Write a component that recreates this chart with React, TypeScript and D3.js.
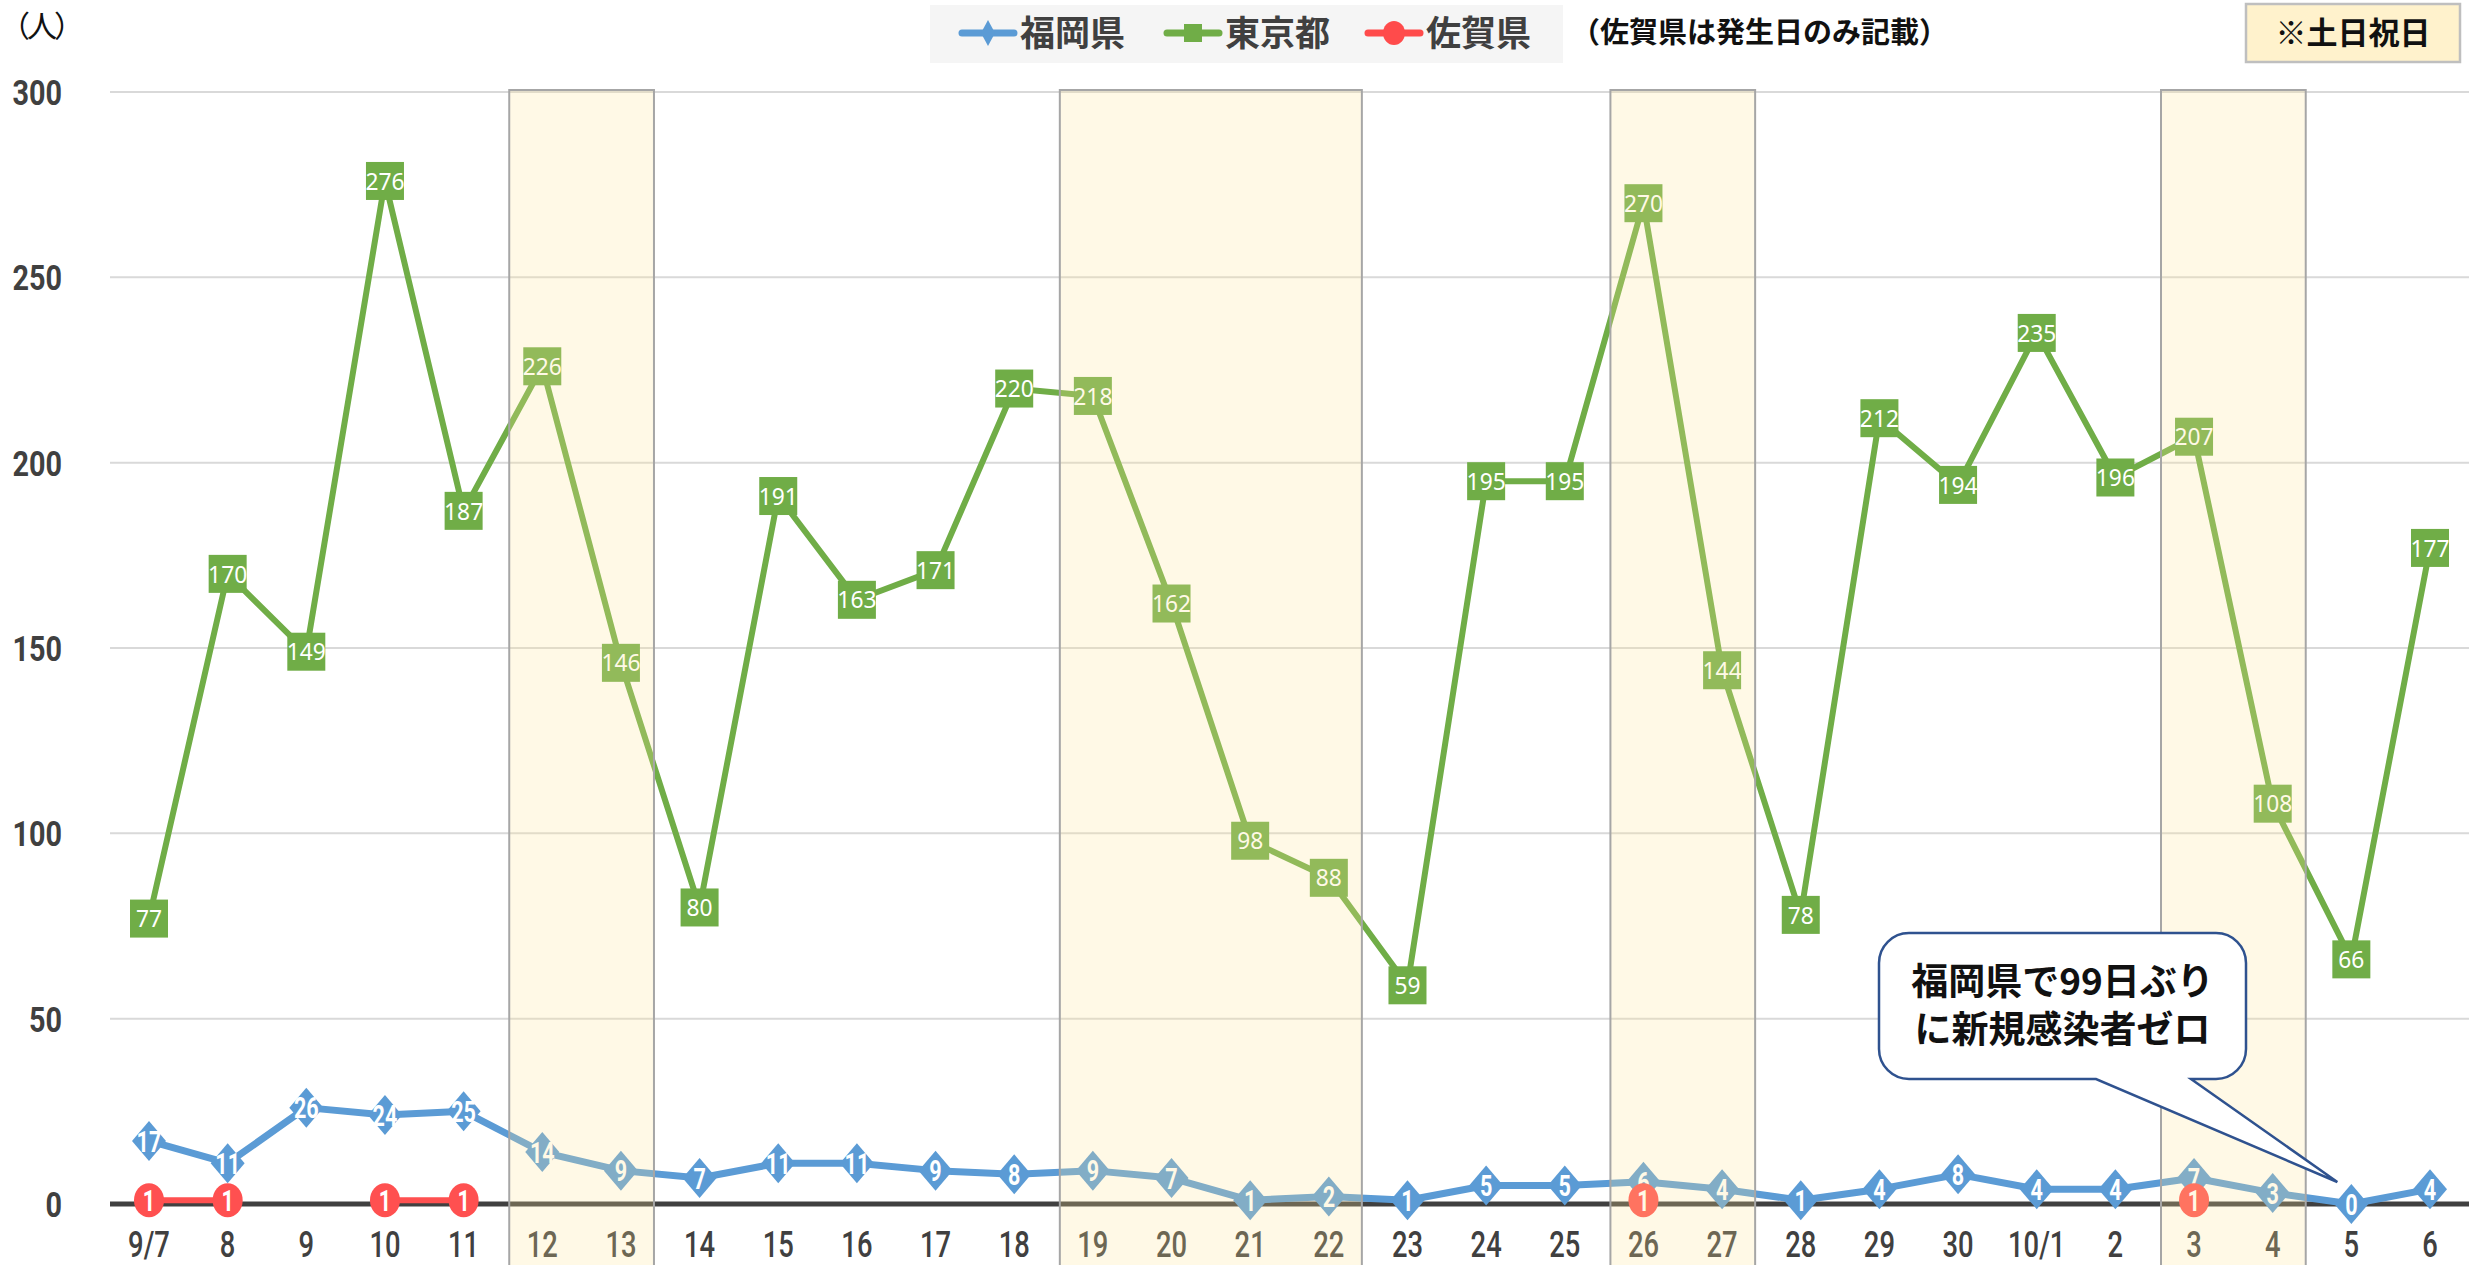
import * as d3 from "d3";
import React, { useEffect, useRef } from "react";

const dates = ["9/7", "8", "9", "10", "11", "12", "13", "14", "15", "16", "17", "18", "19", "20", "21", "22", "23", "24", "25", "26", "27", "28", "29", "30", "10/1", "2", "3", "4", "5", "6"];
const fukuoka = [17, 11, 26, 24, 25, 14, 9, 7, 11, 11, 9, 8, 9, 7, 1, 2, 1, 5, 5, 6, 4, 1, 4, 8, 4, 4, 7, 3, 0, 4];
const tokyo = [77, 170, 149, 276, 187, 226, 146, 80, 191, 163, 171, 220, 218, 162, 98, 88, 59, 195, 195, 270, 144, 78, 212, 194, 235, 196, 207, 108, 66, 177];
const saga: (number | null)[] = [1, 1, null, 1, 1, null, null, null, null, null, null, null, null, null, null, null, null, null, null, 1, null, null, null, null, null, null, 1, null, null, null];
const holidays = [["12", "13"], ["19", "22"], ["26", "27"], ["3", "4"]];
const yTicks = [0, 50, 100, 150, 200, 250, 300];

const W = 2481;
const H = 1265;
const numFont = "Roboto, 'Noto Sans', sans-serif";
const jpFont = "'Noto Sans CJK JP', sans-serif";

const BLUE = "#5B9BD5";
const GREEN = "#70AD47";
const RED = "#FF5050";

// condensed look: squeeze text horizontally around its anchor
const squeeze = (px: number, py: number, k = 0.76) => `translate(${px},${py}) scale(${k},1)`;

export default function App() {
  const ref = useRef<SVGSVGElement | null>(null);

  useEffect(() => {
    if (!ref.current) return;
    const svg = d3.select(ref.current);
    svg.selectAll("*").remove();

    const x = d3.scalePoint<string>().domain(dates).range([149, 2430]);
    const y = d3.scaleLinear().domain([0, 300]).range([1204, 92]);
    const step = x.step();

    svg.append("rect").attr("width", W).attr("height", H).attr("fill", "#fff");

    // grid
    svg.append("g").selectAll("line")
      .data(yTicks.filter(t => t > 0))
      .join("line")
      .attr("x1", 110).attr("x2", 2469)
      .attr("y1", d => y(d)).attr("y2", d => y(d))
      .attr("stroke", "#D9D9D9").attr("stroke-width", 2);

    svg.append("line")
      .attr("x1", 110).attr("x2", 2469)
      .attr("y1", y(0)).attr("y2", y(0))
      .attr("stroke", "#404040").attr("stroke-width", 5);

    // y labels
    svg.append("g").selectAll("text")
      .data(yTicks)
      .join("text")
      .attr("transform", d => squeeze(62, y(d), 0.8))
      .attr("dy", "0.36em")
      .attr("text-anchor", "end")
      .attr("font-family", numFont).attr("font-weight", "bold")
      .attr("font-size", 36).attr("fill", "#404040")
      .text(d => d);

    svg.append("text")
      .attr("x", 0).attr("y", 37)
      .attr("font-family", jpFont).attr("font-size", 30)
      .attr("letter-spacing", -3)
      .attr("fill", "#111")
      .text("（人）");

    // x labels
    svg.append("g").selectAll("text")
      .data(dates)
      .join("text")
      .attr("transform", d => squeeze(x(d)!, 1244, 0.74))
      .attr("dy", "0.36em")
      .attr("text-anchor", "middle")
      .attr("font-family", numFont).attr("font-weight", 500)
      .attr("font-size", 37).attr("fill", "#404040")
      .text(d => d);

    // Tokyo
    const lineT = d3.line<number>().x((_, i) => x(dates[i])!).y(d => y(d));
    svg.append("path").attr("d", lineT(tokyo)!)
      .attr("fill", "none").attr("stroke", GREEN).attr("stroke-width", 6)
      .attr("stroke-linejoin", "round");
    const tg = svg.append("g").selectAll("g").data(tokyo).join("g")
      .attr("transform", (d, i) => `translate(${x(dates[i])},${y(d)})`);
    tg.append("rect").attr("x", -19).attr("y", -19).attr("width", 38).attr("height", 38).attr("fill", GREEN);
    tg.append("text").attr("text-anchor", "middle").attr("dy", "0.36em")
      .attr("font-family", "'Noto Sans', sans-serif").attr("font-size", 24)
      .attr("transform", "scale(0.95,1)")
      .attr("fill", "#fff").text(d => d);

    // Fukuoka
    svg.append("path").attr("d", lineT(fukuoka)!)
      .attr("fill", "none").attr("stroke", BLUE).attr("stroke-width", 7)
      .attr("stroke-linejoin", "round");
    const fg = svg.append("g").selectAll("g").data(fukuoka).join("g")
      .attr("transform", (d, i) => `translate(${x(dates[i])},${y(d)})`);
    fg.append("path").attr("d", "M0,-20L17,0L0,20L-17,0Z").attr("fill", BLUE);
    fg.append("text").attr("text-anchor", "middle").attr("dy", "0.36em")
      .attr("transform", "scale(0.72,1)")
      .attr("font-family", numFont).attr("font-weight", "bold").attr("font-size", 30)
      .attr("fill", "#fff").text(d => d);

    // Saga
    const lineS = d3.line<number | null>()
      .defined(d => d != null)
      .x((_, i) => x(dates[i])!).y(d => y(d as number));
    svg.append("path").attr("d", lineS(saga)!)
      .attr("fill", "none").attr("stroke", RED).attr("stroke-width", 6);
    const sagaPts = saga.map((v, i) => ({ v, d: dates[i] })).filter(p => p.v != null);
    const sg = svg.append("g").selectAll("g").data(sagaPts).join("g")
      .attr("transform", p => `translate(${x(p.d)},${y(p.v as number)})`);
    sg.append("ellipse").attr("rx", 15).attr("ry", 17).attr("fill", RED);
    sg.append("text").attr("text-anchor", "middle").attr("dy", "0.36em")
      .attr("transform", "scale(0.72,1)")
      .attr("font-family", numFont).attr("font-weight", "bold").attr("font-size", 30)
      .attr("fill", "#fff").text(p => p.v as number);

    // weekend / holiday shading
    svg.append("g").selectAll("rect")
      .data(holidays)
      .join("rect")
      .attr("x", d => x(d[0])! - step * 0.42)
      .attr("width", d => x(d[1])! - x(d[0])! + step * 0.84)
      .attr("y", y(300) - 2)
      .attr("height", H - y(300) + 10)
      .attr("fill", "rgba(255, 228, 150, 0.24)")
      .attr("stroke", "#A6A6A6").attr("stroke-width", 2);

    // legend
    const lg = svg.append("g");
    lg.append("rect").attr("x", 930).attr("y", 5).attr("width", 633).attr("height", 58).attr("fill", "#F5F5F5");
    const legendItems = [
      { name: "福岡県", color: BLUE, shape: "diamond", x: 962 },
      { name: "東京都", color: GREEN, shape: "square", x: 1167 },
      { name: "佐賀県", color: "#FF4B4B", shape: "circle", x: 1368 },
    ];
    const li = lg.selectAll("g.li").data(legendItems).join("g")
      .attr("class", "li")
      .attr("transform", d => `translate(${d.x},33)`);
    li.append("line").attr("x1", 0).attr("x2", 52).attr("stroke", d => d.color).attr("stroke-width", 7)
      .attr("stroke-linecap", "round");
    li.append("path")
      .attr("d", d => d.shape === "diamond" ? "M26,-13L33,0L26,13L19,0Z"
        : d.shape === "square" ? "M17,-9H35V9H17Z" : "")
      .attr("fill", d => d.color);
    li.filter(d => d.shape === "circle").append("ellipse")
      .attr("cx", 26).attr("rx", 11).attr("ry", 12).attr("fill", d => d.color);
    li.append("text").attr("x", 58).attr("dy", "0.36em")
      .attr("font-family", jpFont).attr("font-weight", "bold").attr("font-size", 35)
      .attr("fill", "#404040").text(d => d.name);

    svg.append("text").attr("x", 1571).attr("y", 33).attr("dy", "0.36em")
      .attr("font-family", jpFont).attr("font-weight", "bold").attr("font-size", 29)
      .attr("fill", "#111").text("（佐賀県は発生日のみ記載）");

    svg.append("rect").attr("x", 2246).attr("y", 4).attr("width", 214).attr("height", 58)
      .attr("fill", "#FFF2CC").attr("stroke", "#BFBFBF").attr("stroke-width", 2.5);
    svg.append("text").attr("x", 2353).attr("y", 33).attr("dy", "0.36em")
      .attr("text-anchor", "middle")
      .attr("font-family", jpFont).attr("font-weight", "bold").attr("font-size", 31)
      .attr("fill", "#111").text("※土日祝日");

    // callout
    const cx0 = 1879, cx1 = 2246, cy0 = 933, cy1 = 1079, r = 30;
    const tipX = x("5")! - 14, tipY = y(0) - 22;
    const p = d3.path();
    p.moveTo(cx0 + r, cy0);
    p.lineTo(cx1 - r, cy0);
    p.arcTo(cx1, cy0, cx1, cy0 + r, r);
    p.lineTo(cx1, cy1 - r);
    p.arcTo(cx1, cy1, cx1 - r, cy1, r);
    p.lineTo(2191, cy1);
    p.lineTo(tipX, tipY);
    p.lineTo(2096, cy1);
    p.lineTo(cx0 + r, cy1);
    p.arcTo(cx0, cy1, cx0, cy1 - r, r);
    p.lineTo(cx0, cy0 + r);
    p.arcTo(cx0, cy0, cx0 + r, cy0, r);
    p.closePath();
    svg.append("path").attr("d", p.toString())
      .attr("fill", "#fff").attr("stroke", "#2F528F").attr("stroke-width", 2.5);
    svg.append("text").attr("x", (cx0 + cx1) / 2).attr("y", 982).attr("dy", "0.36em")
      .attr("text-anchor", "middle")
      .attr("font-family", jpFont).attr("font-weight", "bold").attr("font-size", 37)
      .attr("fill", "#111").text("福岡県で99日ぶり");
    svg.append("text").attr("x", (cx0 + cx1) / 2).attr("y", 1030).attr("dy", "0.36em")
      .attr("text-anchor", "middle")
      .attr("font-family", jpFont).attr("font-weight", "bold").attr("font-size", 37)
      .attr("fill", "#111").text("に新規感染者ゼロ");
  }, []);

  return (
    <svg ref={ref} width={W} height={H} style={{ position: "absolute", left: 0, top: 0 }} />
  );
}
